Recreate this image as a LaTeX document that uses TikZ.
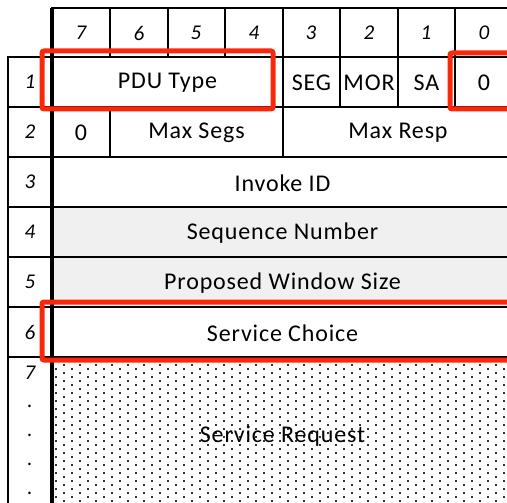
\documentclass[tikz,border=0pt]{standalone}
\usepackage{fontspec}
\setmainfont{Carlito}
\begin{document}
\begin{tikzpicture}[x=1pt,y=-1pt,
  grid/.style={line width=2.5pt,line cap=rect},
  axisline/.style={line width=4pt},
  hilite/.style={draw={rgb,255:red,250;green,40;blue,10},line width=5pt,rounded corners=2pt},
  field/.style={font=\fontsize{24}{24}\selectfont\addfontfeatures{LetterSpace=3.5},inner sep=0pt},
  bitno/.style={font=\fontsize{21}{21}\selectfont\itshape,inner sep=0pt}]
\useasboundingbox (0,0) rectangle (507,503);
\begin{scope}
\clip (0,0) rectangle (507,503);
% shaded octets 4 and 5
\fill[black!6] (52,207) rectangle (513,307);
% stippled area for the service request
\foreach \j in {0,...,38}{
  \pgfmathsetmacro{\yy}{359.5+4*\j}
  \pgfmathsetmacro{\off}{mod(\j,2)*8}
  \foreach \i in {0,...,29}{
    \fill[black!80] ({54.5+\off+16*\i},\yy) rectangle ++(2,2);
  }
}
% header row
\draw[grid] (52,8) -- (513,8);
\foreach \x in {110,168,225,283,340,398,455}
  \draw[grid] (\x,8) -- (\x,57);
% horizontal rules
\foreach \y in {57,107,157,207,257,307,357}
  \draw[grid] (8,\y) -- (513,\y);
\draw[grid] (8,57) -- (8,520);
% octet 1 and 2 dividers
\foreach \x in {283,340,398,455}
  \draw[grid] (\x,57) -- (\x,107);
\foreach \x in {110,283}
  \draw[grid] (\x,107) -- (\x,157);
\draw[axisline] (52,8) -- (52,520);
% bit numbers
\foreach \b/\x in {7/81,6/139,5/196,4/254,3/311,2/369,1/426,0/484}
  \node[bitno] (bit\b) at (\x,33) {\b};
% octet numbers
\foreach \r/\y in {1/82,2/132,3/182,4/232,5/282,6/332,7/373}
  \node[bitno] (oct\r) at (30,\y) {\r};
\foreach \k/\y in {a/406,b/435,c/464,d/493}
  \node[bitno] (more\k) at (30,\y) {.};
% fields
\node[field] (pdu) at (167.5,83) {PDU Type};
\node[field] (seg) at (311.5,83) {SEG};
\node[field] (mor) at (369,83) {MOR};
\node[field] (sa) at (426.5,83) {SA};
\node[field] (zeroa) at (484,83) {0};
\node[field] (zerob) at (81,133) {0};
\node[field] (maxsegs) at (196.5,133) {Max Segs};
\node[field] (maxresp) at (398,133) {Max Resp};
\node[field] (invoke) at (282.5,183) {Invoke ID};
\node[field] (seqno) at (282.5,233) {Sequence Number};
\node[field] (window) at (282.5,283) {Proposed Window Size};
\node[field] (choice) at (282.5,333) {Service Choice};
\node[field] (request) at (282.5,436) {Service Request};
% highlighted fields
\draw[hilite] (42,51) rectangle (273,109);
\draw[hilite] (450,53) rectangle (530,109);
\draw[hilite] (42,302) rectangle (530,360);
\end{scope}
\end{tikzpicture}
\end{document}
